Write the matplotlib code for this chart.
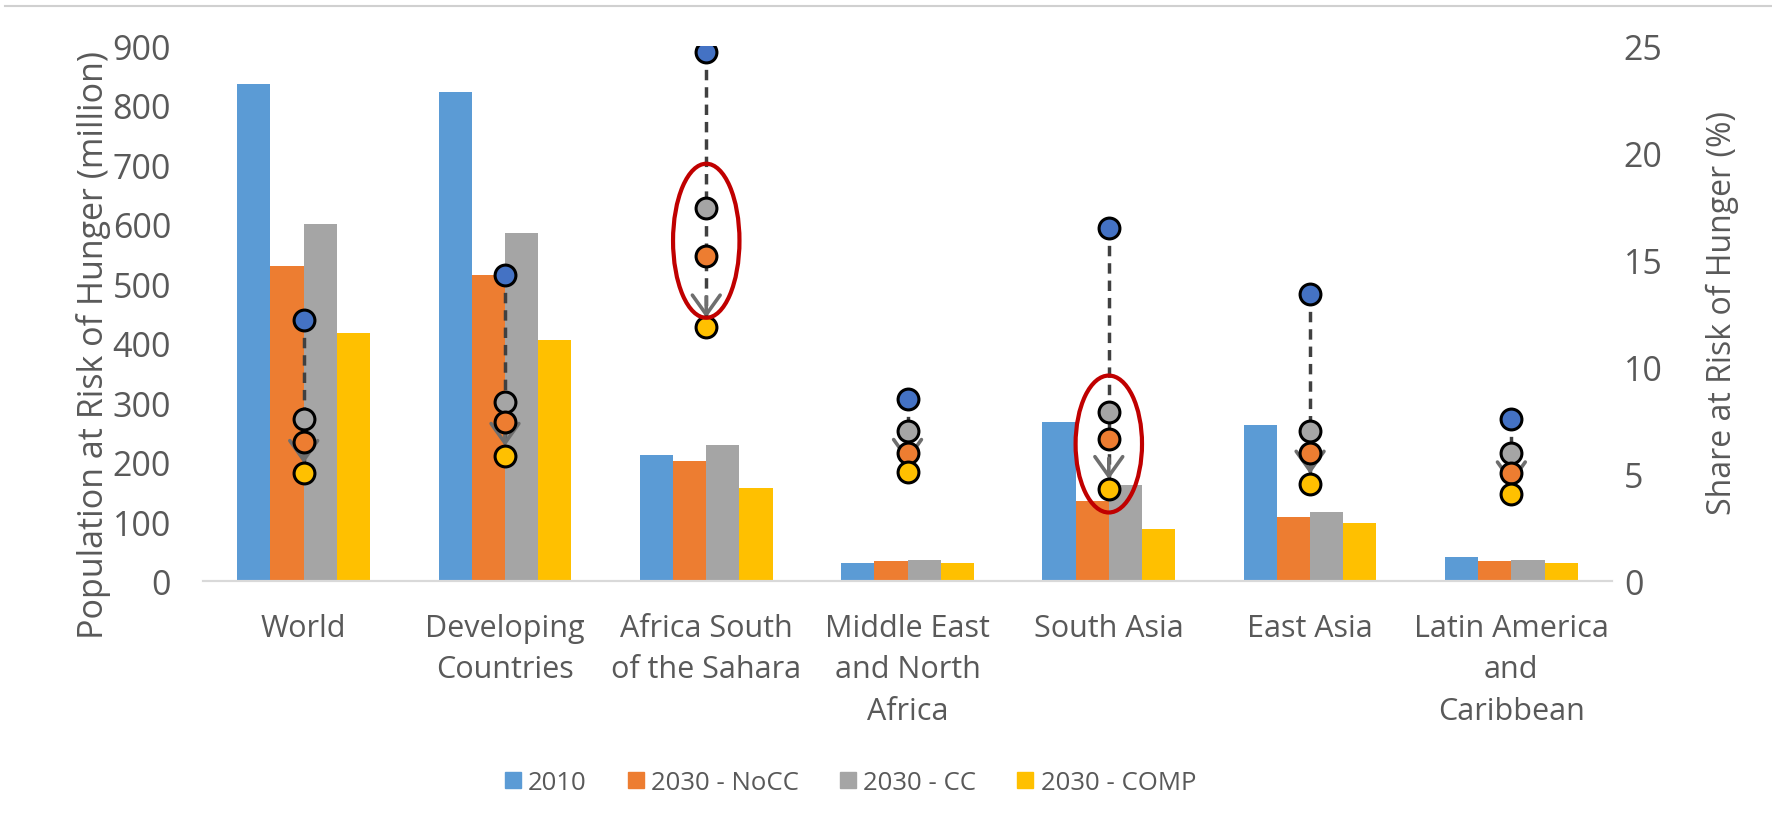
import numpy as np
import matplotlib
matplotlib.use("Agg")
import matplotlib.pyplot as plt
from matplotlib.patches import Ellipse
from matplotlib.lines import Line2D

plt.rcParams['font.family'] = ['Open Sans', 'DejaVu Sans']

# --- data -------------------------------------------------------------
regions = ["World", "Developing\nCountries", "Africa South\nof the Sahara",
           "Middle East\nand North\nAfrica", "South Asia", "East Asia",
           "Latin America\nand\nCaribbean"]
series = ["2010", "2030 - NoCC", "2030 - CC", "2030 - COMP"]

# population at risk of hunger (million)
pop_2010 = [836, 822, 212, 30, 267, 263, 40]
pop_nocc = [530, 515, 202, 34, 134, 107, 34]
pop_cc = [601, 586, 229, 36, 162, 116, 36]
pop_comp = [418, 406, 156, 30, 88, 97, 30]

# share at risk of hunger (%)
share_2010 = [12.2, 14.3, 24.7, 8.5, 16.5, 13.4, 7.55]
share_nocc = [6.5, 7.45, 15.2, 6.0, 6.65, 6.0, 5.05]
share_cc = [7.55, 8.35, 17.45, 7.0, 7.9, 7.0, 6.0]
share_comp = [5.05, 5.85, 11.85, 5.1, 4.3, 4.55, 4.05]

# highlighted regions (index, centre %, height %)
highlight_idx = [2, 4]
highlight_mid = [15.9, 6.4]
highlight_span = [7.2, 6.4]

# --- styling ----------------------------------------------------------
bar_colors = ["#5B9BD5", "#ED7D31", "#A5A5A5", "#FFC000"]
dot_colors = ["#4472C4", "#ED7D31", "#A5A5A5", "#FFC000"]
text_color = "#595959"

fig = plt.figure(figsize=(17.72, 8.37), dpi=100)
ax = fig.add_axes([0.1146, 0.3047, 0.7951, 0.6391])
ax2 = ax.twinx()

x = np.arange(len(regions))
w = 0.165
pops = [pop_2010, pop_nocc, pop_cc, pop_comp]
for i, (vals, c, lab) in enumerate(zip(pops, bar_colors, series)):
    ax.bar(x + (i - 1.5) * w, vals, width=w, color=c, label=lab, zorder=2)

ax.set_xlim(-0.5, len(regions) - 0.5)
ax.set_ylim(0, 900)
ax.set_yticks(range(0, 901, 100))
ax.set_xticks(x)
ax.set_xticklabels(regions, fontsize=22, color=text_color, linespacing=1.5)
ax.tick_params(axis='x', length=0, pad=23)
ax.tick_params(axis='y', length=0, pad=23, labelsize=24.5, labelcolor=text_color)
ax.set_ylabel("Population at Risk of Hunger (million)", fontsize=24.5,
              color=text_color)
ax.yaxis.set_label_coords(-0.0656, 0.443)

ax2.set_ylim(0, 25)
ax2.set_yticks(range(0, 26, 5))
ax2.tick_params(axis='y', length=0, pad=8.5, labelsize=24.5, labelcolor=text_color)
ax2.set_ylabel("Share at Risk of Hunger (%)", fontsize=23, color=text_color)
ax2.yaxis.set_label_coords(1.0668, 0.503)

for a in (ax, ax2):
    for s in ("left", "right", "top"):
        a.spines[s].set_visible(False)
    a.spines["bottom"].set_color("#D9D9D9")
    a.spines["bottom"].set_linewidth(1.5)

# share trajectories: dashed line from 2010 down to the COMP scenario
for xi, top, bot in zip(x, share_2010, share_comp):
    ax2.plot([xi, xi], [top, bot], linestyle=(0, (3, 2)), color="#404040",
             lw=2.5, zorder=3)
    ax2.annotate("", xy=(xi, bot), xytext=(0, 22), textcoords="offset points",
                 arrowprops=dict(arrowstyle="->,head_length=1.4,head_width=1.0",
                                 mutation_scale=10, color="#6E6E6E", lw=2.6,
                                 shrinkA=0, shrinkB=7),
                 zorder=3)

shares = [share_2010, share_cc, share_nocc, share_comp]
share_cols = [dot_colors[0], dot_colors[2], dot_colors[1], dot_colors[3]]
for vals, c in zip(shares, share_cols):
    ax2.plot(x, vals, linestyle="none", marker="o", markersize=15,
             markerfacecolor=c, markeredgecolor="black", markeredgewidth=2.2,
             zorder=4)

for idx, mid, span in zip(highlight_idx, highlight_mid, highlight_span):
    ax2.add_patch(Ellipse((x[idx], mid), width=0.33, height=span, fill=False,
                          edgecolor="#C00000", lw=3, zorder=5))

handles = [Line2D([], [], linestyle="none", marker="s", markersize=12,
                  markerfacecolor=c, markeredgecolor=c) for c in bar_colors]
fig.legend(handles, series, loc="center", bbox_to_anchor=(0.48, 0.0645),
           ncol=4, frameon=False, fontsize=18.5, handlelength=0.6,
           handletextpad=0.3, columnspacing=1.6, labelcolor=text_color)

# thin rule along the top edge
fig.add_artist(Line2D([0.003, 1.0], [0.9916, 0.9916], color="#D0D0D0", lw=1.5))

fig.savefig("out.png", dpi=100)
